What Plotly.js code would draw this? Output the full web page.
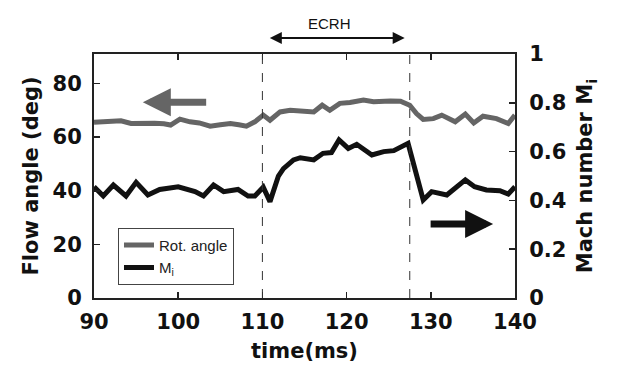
<!DOCTYPE html>
<html>
<head>
<meta charset="utf-8">
<script src="https://cdn.plot.ly/plotly-3.0.1.min.js"></script>
<style>html,body{margin:0;padding:0;background:#fff;}#chart{width:624px;height:368px;}</style>
</head>
<body>
<div id="chart"></div>
<script>
// Rotation (flow) angle, deg — left axis
const rotTime = [90, 91.5, 93.2, 94.4, 96, 97.2, 98.3, 99.1, 100.2, 101.4, 102.5, 103.8, 105, 106.2, 107.2, 108.1, 109.1, 110.1, 110.9, 112.1, 113.3, 114.5, 116.1, 117.1, 118, 119.2, 120.4, 122, 123.2, 125.2, 126.4, 127.5, 128.3, 129.1, 130.3, 131.3, 132.9, 134.1, 135.1, 136.2, 137.8, 139.2, 140];
const rotVal  = [65.5, 65.8, 66.1, 65.1, 65.4, 65.2, 65.0, 64.5, 66.7, 65.7, 65.3, 64.1, 64.6, 65.1, 64.6, 64.1, 65.7, 68.2, 66.3, 69.4, 70.0, 69.8, 69.4, 71.9, 70.0, 72.6, 72.9, 73.8, 73.2, 73.5, 73.4, 71.9, 68.8, 66.6, 66.9, 68.2, 65.7, 68.6, 65.3, 67.8, 66.9, 65.1, 68.2];
// Mach number M_i — right axis
const miTime = [90, 91.1, 92.3, 93.8, 95, 96.4, 97.8, 100, 102, 103, 104.2, 105.4, 107.1, 108.3, 109.1, 110.1, 110.9, 111.9, 112.5, 113.7, 114.5, 116.1, 117.2, 118.2, 119.1, 120.2, 121.2, 123, 124.4, 125.6, 127.3, 129.1, 130.1, 131.9, 134.1, 135.2, 136.6, 138.2, 139.2, 140];
const miVal  = [0.456, 0.418, 0.463, 0.418, 0.474, 0.422, 0.445, 0.456, 0.436, 0.418, 0.463, 0.436, 0.445, 0.418, 0.418, 0.454, 0.395, 0.5, 0.53, 0.566, 0.575, 0.566, 0.593, 0.596, 0.648, 0.613, 0.63, 0.586, 0.6, 0.604, 0.634, 0.402, 0.436, 0.422, 0.484, 0.456, 0.443, 0.44, 0.426, 0.456];

const xTicks = [90, 100, 110, 120, 130, 140];
const yTicks = [0, 20, 40, 60, 80];
const y2Ticks = [0, 0.2, 0.4, 0.6, 0.8, 1];
const ecrhStart = 110;
const ecrhEnd = 127.5;

const bold = {family: 'DejaVu Sans', size: 21, color: '#111', weight: 'bold'};

const traces = [
  {x: rotTime, y: rotVal, name: 'Rot. angle', type: 'scatter', mode: 'lines',
   line: {color: '#656565', width: 5}, yaxis: 'y'},
  {x: miTime, y: miVal, name: 'M<sub>i</sub>', type: 'scatter', mode: 'lines',
   line: {color: '#111', width: 5}, yaxis: 'y2'}
];

const layout = {
  width: 624, height: 368,
  margin: {l: 94, r: 109, t: 54, b: 70, autoexpand: false},
  paper_bgcolor: '#fff', plot_bgcolor: '#fff',
  showlegend: true,
  legend: {x: 0.057, y: 0.288, xanchor: 'left', yanchor: 'top',
           bgcolor: '#fff', bordercolor: '#444', borderwidth: 1, entrywidth: 120,
           font: {family: 'Liberation Sans', size: 15, color: '#222'}},
  xaxis: {range: [90, 140], tickvals: xTicks, ticks: 'inside', ticklen: 6, tickwidth: 1.5,
          tickcolor: '#222', showline: true, linecolor: '#222', linewidth: 2, mirror: 'ticks',
          showgrid: false, zeroline: false, tickfont: bold, ticklabelstandoff: 4,
          title: {text: 'time(ms)', font: bold, standoff: 10}},
  yaxis: {range: [0, 91], tickvals: yTicks, ticks: 'inside', ticklen: 6, tickwidth: 1.5,
          tickcolor: '#222', showline: true, linecolor: '#222', linewidth: 2,
          showgrid: false, zeroline: false, tickfont: bold, ticklabelstandoff: 6,
          title: {text: 'Flow angle (deg)', font: bold, standoff: 8}},
  yaxis2: {range: [0, 1], tickvals: y2Ticks, overlaying: 'y', side: 'right', ticks: 'inside',
           ticklen: 6, tickwidth: 1.5, tickcolor: '#222', showline: true, linecolor: '#222', linewidth: 2,
           showgrid: false, zeroline: false, tickfont: bold, ticklabelstandoff: 8,
           title: {text: 'Mach number M<sub>i</sub>', font: bold, standoff: 12}},
  shapes: [
    {type: 'line', xref: 'x', yref: 'paper', x0: ecrhStart, x1: ecrhStart, y0: 0, y1: 1,
     line: {color: '#333', width: 1, dash: 'dash'}},
    {type: 'line', xref: 'x', yref: 'paper', x0: ecrhEnd, x1: ecrhEnd, y0: 0, y1: 1,
     line: {color: '#333', width: 1, dash: 'dash'}}
  ],
  annotations: [
    {text: 'ECRH', xref: 'x', yref: 'paper', x: 118, y: 1.17, showarrow: false,
     font: {family: 'Liberation Sans', size: 15, color: '#111'}},
    {text: '', xref: 'x', yref: 'paper', x: 126.9, y: 1.066, axref: 'x', ax: 110.7, ayref: 'pixel', ay: 0,
     showarrow: true, arrowside: 'end+start', arrowhead: 2, startarrowhead: 2, arrowwidth: 2,
     arrowsize: 1.2, startarrowsize: 1.2, arrowcolor: '#111'},
    {text: '', xref: 'x', yref: 'y', x: 95.8, y: 73, axref: 'x', ax: 103.5, ayref: 'y', ay: 73,
     showarrow: true, arrowhead: 2, arrowwidth: 7, arrowsize: 0.8, arrowcolor: '#656565'},
    {text: '', xref: 'x', yref: 'y2', x: 137.4, y: 0.303, axref: 'x', ax: 129.8, ayref: 'y2', ay: 0.303,
     showarrow: true, arrowhead: 2, arrowwidth: 7, arrowsize: 0.8, arrowcolor: '#111'}
  ]
};

Plotly.newPlot('chart', traces, layout, {displayModeBar: false, staticPlot: true});
</script>
</body>
</html>
